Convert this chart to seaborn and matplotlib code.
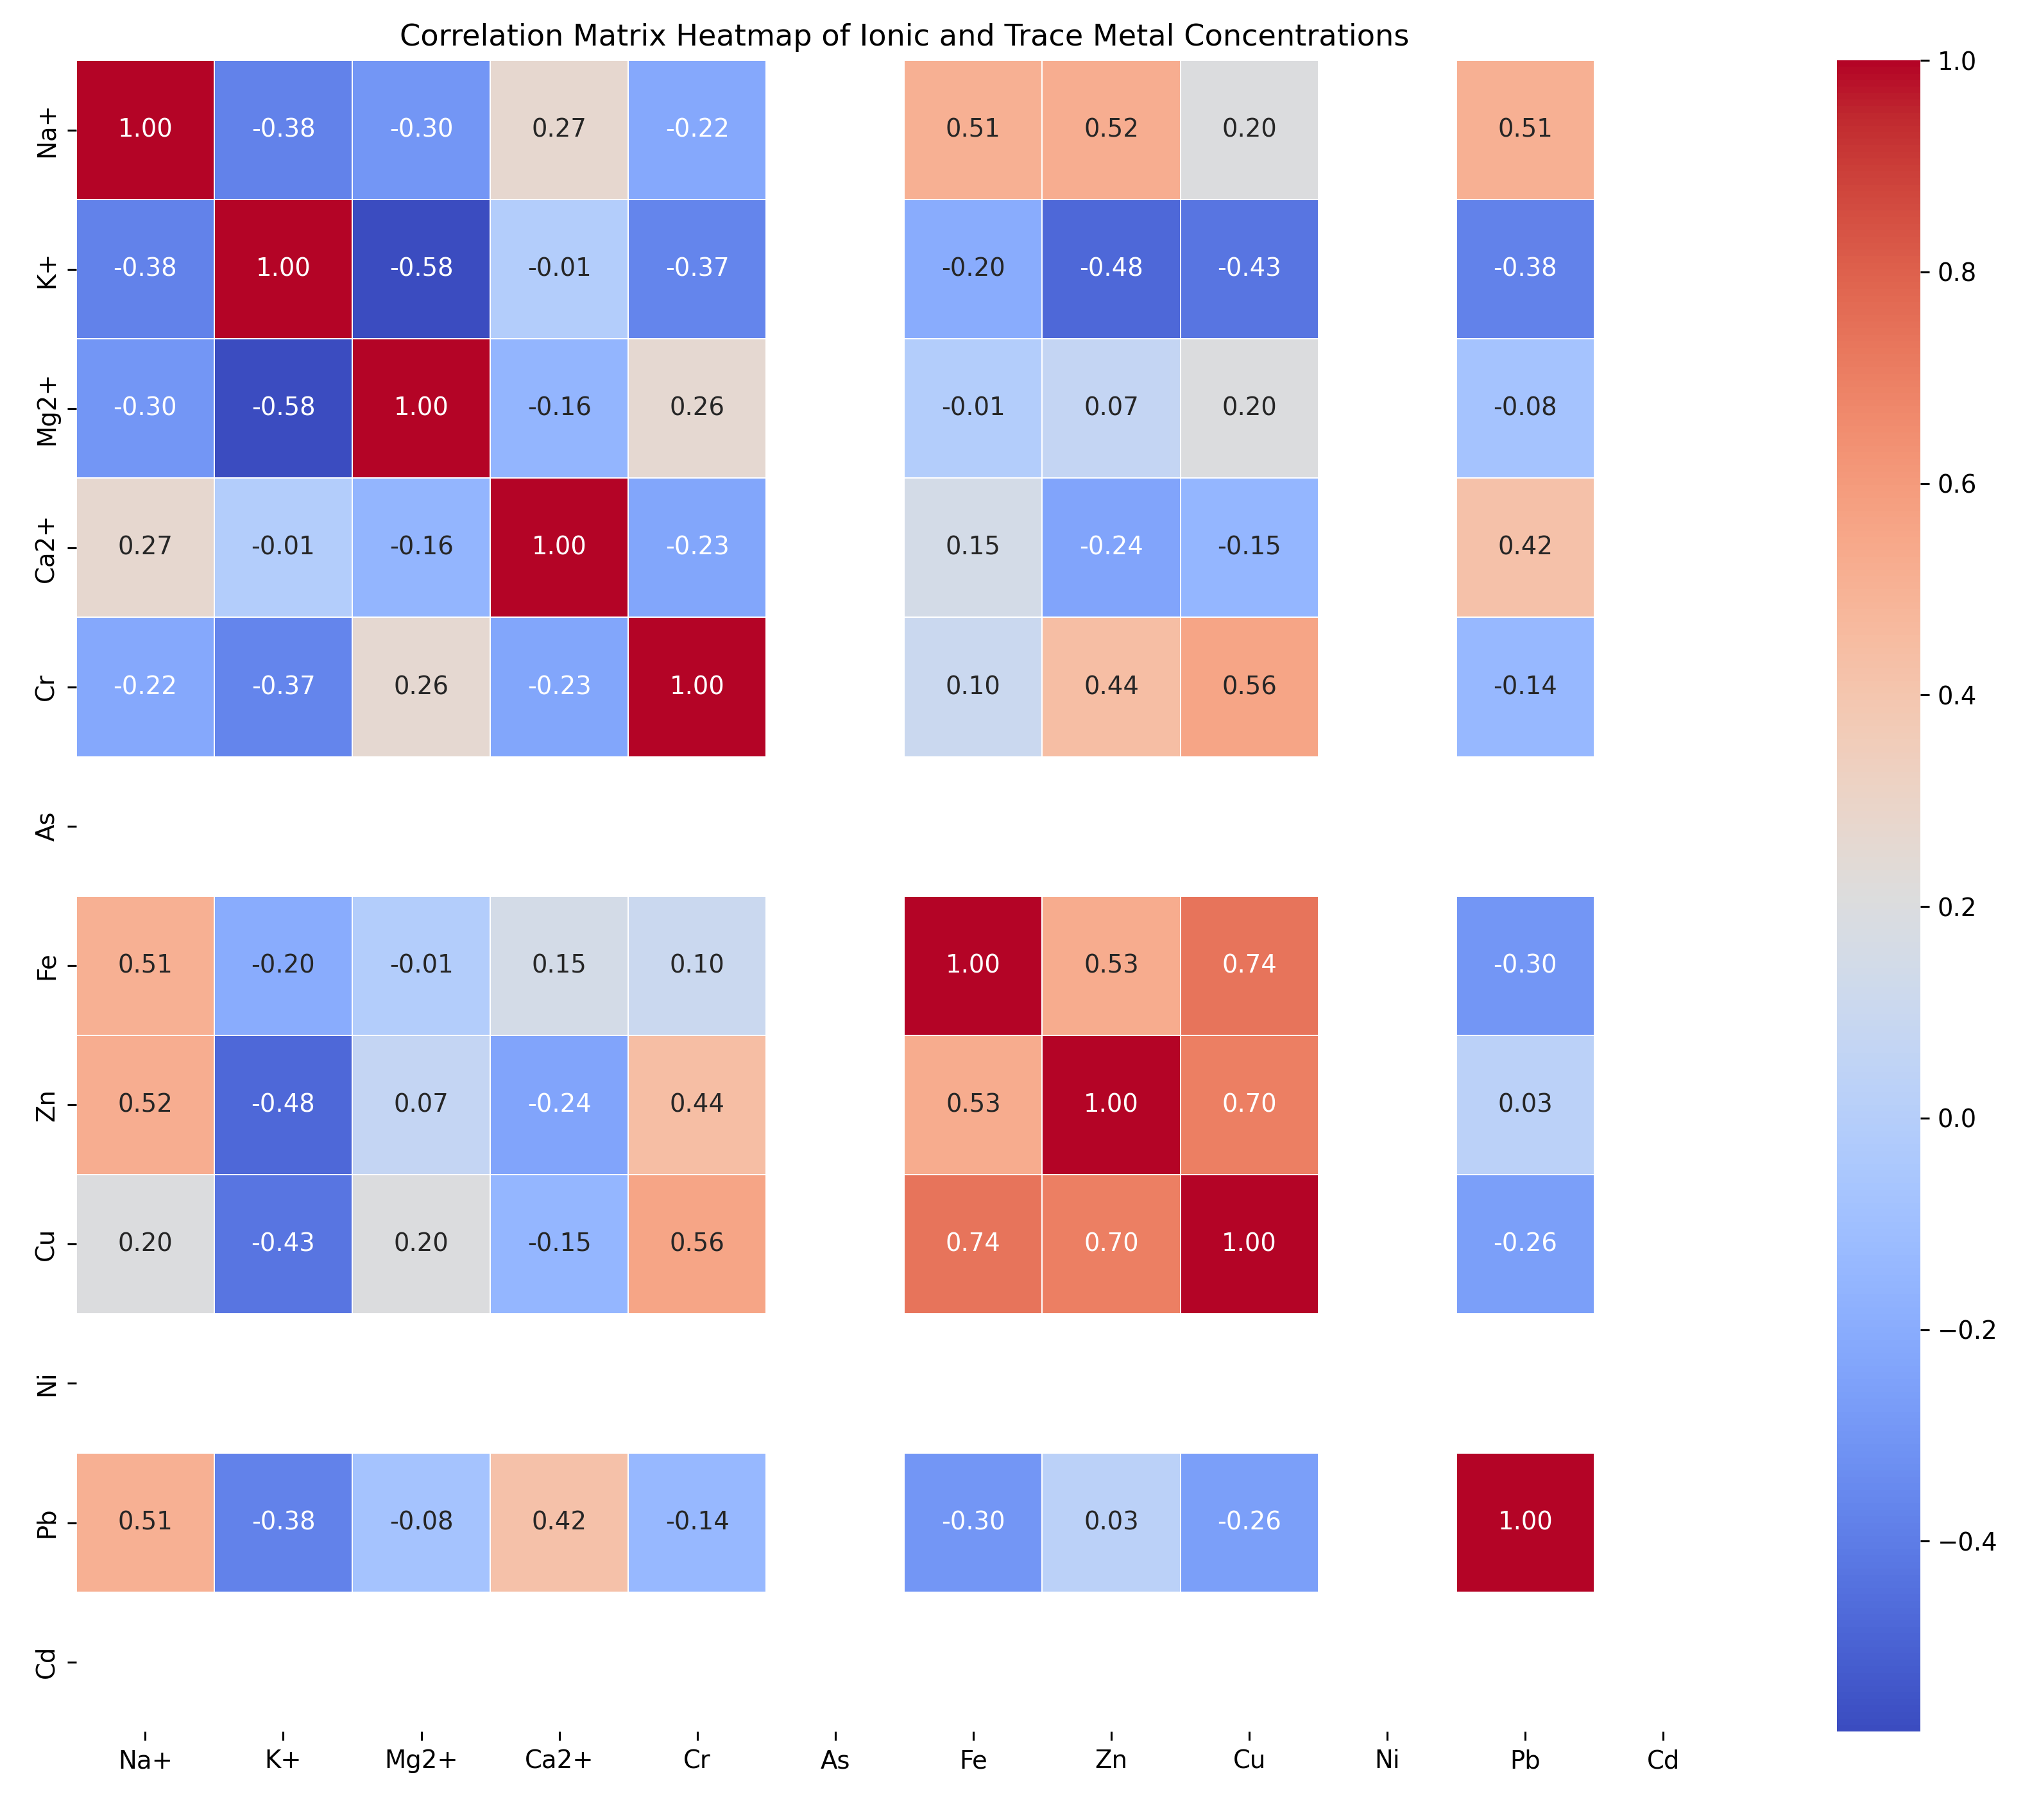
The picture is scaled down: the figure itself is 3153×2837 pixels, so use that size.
import numpy as np
import pandas as pd
import matplotlib
matplotlib.use("Agg")
import matplotlib.pyplot as plt
import seaborn as sns

labels = ["Na+", "K+", "Mg2+", "Ca2+", "Cr", "As", "Fe", "Zn", "Cu", "Ni", "Pb", "Cd"]
nan = np.nan
row_na = [1.00, -0.38, -0.30, 0.27, -0.22, nan, 0.51, 0.52, 0.20, nan, 0.51, nan]
row_k = [-0.38, 1.00, -0.58, -0.01, -0.37, nan, -0.20, -0.48, -0.43, nan, -0.38, nan]
row_mg = [-0.30, -0.58, 1.00, -0.16, 0.26, nan, -0.01, 0.07, 0.20, nan, -0.08, nan]
row_ca = [0.27, -0.01, -0.16, 1.00, -0.23, nan, 0.15, -0.24, -0.15, nan, 0.42, nan]
row_cr = [-0.22, -0.37, 0.26, -0.23, 1.00, nan, 0.10, 0.44, 0.56, nan, -0.14, nan]
row_as = [nan] * 12
row_fe = [0.51, -0.20, -0.01, 0.15, 0.10, nan, 1.00, 0.53, 0.74, nan, -0.30, nan]
row_zn = [0.52, -0.48, 0.07, -0.24, 0.44, nan, 0.53, 1.00, 0.70, nan, 0.03, nan]
row_cu = [0.20, -0.43, 0.20, -0.15, 0.56, nan, 0.74, 0.70, 1.00, nan, -0.26, nan]
row_ni = [nan] * 12
row_pb = [0.51, -0.38, -0.08, 0.42, -0.14, nan, -0.30, 0.03, -0.26, nan, 1.00, nan]
row_cd = [nan] * 12

corr = pd.DataFrame([row_na, row_k, row_mg, row_ca, row_cr, row_as, row_fe,
                     row_zn, row_cu, row_ni, row_pb, row_cd],
                    index=labels, columns=labels)

s = 1.39  # overall scale of text/lines relative to default
fig = plt.figure(figsize=(15.765, 14.185), dpi=200)
ax = fig.add_axes([0.0377, 0.0486, 0.8186, 0.9182])
cax = fig.add_axes([0.9080, 0.0486, 0.0412, 0.9182])

sns.heatmap(corr, annot=True, fmt=".2f", cmap="coolwarm", linewidths=0.5 * s,
            linecolor="white", ax=ax, cbar_ax=cax, annot_kws={"size": 10 * s})
ax.set_title("Correlation Matrix Heatmap of Ionic and Trace Metal Concentrations",
             fontsize=12 * s, pad=6 * s)
for a in (ax, cax):
    a.tick_params(labelsize=10 * s, length=3.5 * s, width=0.8 * s, pad=3.5 * s)

fig.savefig("out.png", dpi=200)
